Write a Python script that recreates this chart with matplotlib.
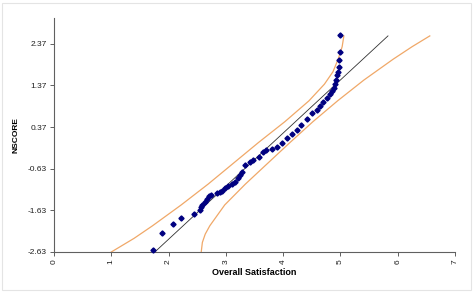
import matplotlib.pyplot as plt
from matplotlib.patches import Rectangle

plt.rcParams.update({
  'font.family'      : 'Liberation Sans',
  'font.size'        : 6,
  'figure.facecolor' : 'w',
  'figure.dpi'       : 100,
  'figure.figsize'   : (4.74, 2.92),
  'axes.linewidth'   : 0.8,
})

# observed points (overall satisfaction vs normal score)
sat_x = [1.73, 1.89, 2.07, 2.21, 2.44, 2.55, 2.57, 2.59, 2.64, 2.67, 2.71, 2.74,
         2.84, 2.89, 2.93, 2.99, 3.04, 3.10, 3.16, 3.22, 3.25, 3.28, 3.34, 3.42,
         3.48, 3.57, 3.65, 3.70, 3.80, 3.89, 3.98, 4.06, 4.15, 4.24, 4.32, 4.41,
         4.50, 4.59, 4.64, 4.70, 4.76, 4.81, 4.85, 4.88, 4.91, 4.92, 4.94, 4.95,
         4.97, 4.98, 4.99, 5.00]
nscore = [-2.59, -2.17, -1.96, -1.82, -1.71, -1.62, -1.56, -1.51, -1.42, -1.36, -1.28, -1.25,
          -1.22, -1.19, -1.16, -1.10, -1.04, -0.99, -0.94, -0.86, -0.78, -0.70, -0.54, -0.48,
          -0.42, -0.34, -0.22, -0.18, -0.16, -0.10, -0.02, 0.10, 0.21, 0.30, 0.42, 0.56,
          0.70, 0.78, 0.88, 0.98, 1.07, 1.16, 1.24, 1.31, 1.41, 1.50, 1.62, 1.70,
          1.81, 1.99, 2.17, 2.57]

# fitted reference line
ref_x = [1.76, 5.83]
ref_y = [-2.63, 2.56]

# confidence band curves
upper_x = [1.00, 1.40, 1.72, 2.22, 2.69, 3.13, 3.57, 4.03, 4.45, 4.72, 4.87, 4.96, 5.03, 5.06]
upper_y = [-2.63, -2.30, -2.00, -1.50, -1.00, -0.50, 0.00, 0.50, 1.00, 1.40, 1.70, 2.00, 2.30, 2.56]
lower_x = [2.57, 2.59, 2.64, 2.72, 2.98, 3.34, 3.73, 4.12, 4.52, 4.95, 5.41, 5.92, 6.25, 6.56]
lower_y = [-2.63, -2.40, -2.20, -2.00, -1.50, -1.00, -0.50, 0.00, 0.50, 1.00, 1.50, 2.00, 2.30, 2.56]

yticks = [-2.63, -1.63, -0.63, 0.37, 1.37, 2.37]

fig, ax = plt.subplots()
plt.subplots_adjust(left=54/474, right=455/474, bottom=40/292, top=274/292)

band_col = '#f0a868'
l1, = ax.plot(upper_x, upper_y, color=band_col, linewidth=0.9, zorder=2)
l2, = ax.plot(lower_x, lower_y, color=band_col, linewidth=0.9, zorder=2)
l3, = ax.plot(ref_x, ref_y, color='#303030', linewidth=0.6, zorder=3)
l4, = ax.plot(sat_x, nscore, linestyle='none', marker='D', markersize=2.6,
              color='#000080', zorder=4)
for ln in (l1, l2, l3, l4):
    ln.set_clip_on(False)

ax.set_xlim(0, 7)
ax.set_ylim(-2.63, 2.99)
ax.set_xticks(range(8))
ax.set_xticklabels([str(v) for v in range(8)], rotation=90)
ax.set_yticks(yticks)
ax.set_yticklabels([f'{v:.2f}' for v in yticks])

for side in ('top', 'right'):
    ax.spines[side].set_visible(False)
for side in ('left', 'bottom'):
    ax.spines[side].set_color('#606060')
ax.tick_params(direction='out', length=3, width=0.7, color='#606060', pad=2,
               labelsize=6, labelcolor='#202020')

ax.set_xlabel('Overall Satisfaction', fontsize=6.5, weight='bold', labelpad=3)
ax.set_ylabel('NSCORE', fontsize=6, weight='bold', labelpad=6)

# faint outer border of the chart area
fig.patches.append(Rectangle((2/474, 2/292), 469/474, 287/292, transform=fig.transFigure,
                             fill=False, edgecolor='#e4e4e4', linewidth=0.8))

plt.savefig('out.png')
